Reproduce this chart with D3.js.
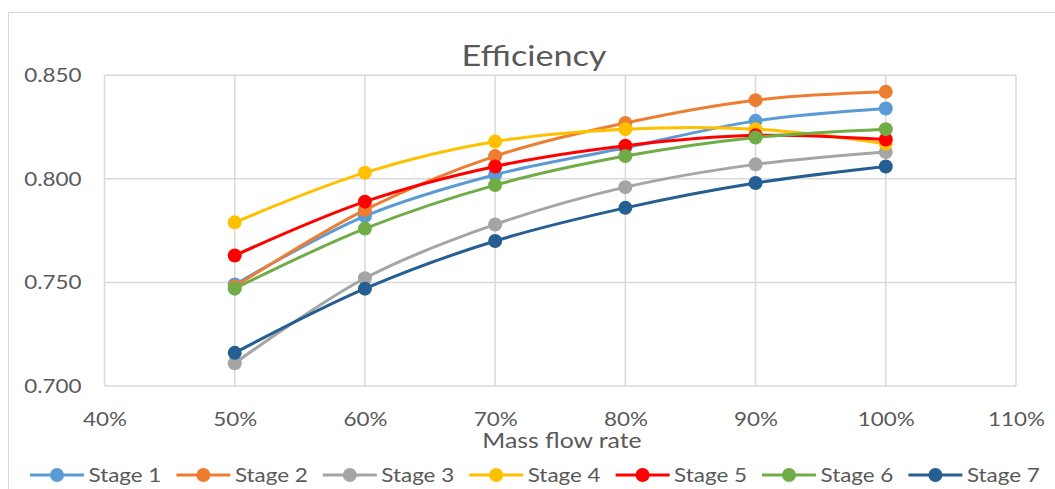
<!DOCTYPE html>
<html>
<head>
<meta charset="utf-8">
<script src="https://cdn.jsdelivr.net/npm/d3@7/dist/d3.min.js"></script>
<style>
  html, body { margin: 0; padding: 0; background: #fff; }
  svg { display: block; font-family: Lato, "Open Sans", sans-serif; }
</style>
</head>
<body>
<svg id="chart" width="1055" height="489"></svg>
<script>
// Mass flow rate (fraction of design) and per-stage efficiency
const flowRates = [0.5, 0.6, 0.7, 0.8, 0.9, 1.0];
const stageNames = ["Stage 1", "Stage 2", "Stage 3", "Stage 4", "Stage 5", "Stage 6", "Stage 7"];
const stage1 = [0.749, 0.782, 0.802, 0.815, 0.828, 0.834];
const stage2 = [0.748, 0.785, 0.811, 0.827, 0.838, 0.842];
const stage3 = [0.711, 0.752, 0.778, 0.796, 0.807, 0.813];
const stage4 = [0.779, 0.803, 0.818, 0.824, 0.824, 0.817];
const stage5 = [0.763, 0.789, 0.806, 0.816, 0.821, 0.819];
const stage6 = [0.747, 0.776, 0.797, 0.811, 0.820, 0.824];
const stage7 = [0.716, 0.747, 0.770, 0.786, 0.798, 0.806];
const stageColors = ["#5B9BD5", "#ED7D31", "#A5A5A5", "#FFC000", "#FF0000", "#70AD47", "#255E91"];
const xTicks = [0.4, 0.5, 0.6, 0.7, 0.8, 0.9, 1.0, 1.1];
const yTicks = [0.70, 0.75, 0.80, 0.85];

const series = [stage1, stage2, stage3, stage4, stage5, stage6, stage7].map((vals, i) => ({
  name: stageNames[i],
  color: stageColors[i],
  points: vals.map((v, j) => ({ x: flowRates[j], y: v }))
}));

const svg = d3.select("#chart");
const textColor = "#595959";
const gridColor = "#D9D9D9";
const stretch = 1.15; // horizontal widening of the label type

// Chart frame
svg.append("rect")
  .attr("x", 8.5).attr("y", 12.5)
  .attr("width", 1060).attr("height", 500)
  .attr("fill", "none").attr("stroke", gridColor).attr("stroke-width", 1);

const plot = { left: 104.5, right: 1016, top: 75.3, bottom: 386 };
const x = d3.scaleLinear().domain([0.4, 1.1]).range([plot.left, plot.right]);
const y = d3.scaleLinear().domain([0.70, 0.85]).range([plot.bottom, plot.top]);

// Gridlines
const grid = svg.append("g");
grid.selectAll(".vg").data(xTicks).join("line")
  .attr("x1", d => x(d)).attr("x2", d => x(d))
  .attr("y1", plot.top).attr("y2", plot.bottom)
  .attr("stroke", gridColor).attr("stroke-width", 1.5);
grid.selectAll(".hg").data(yTicks).join("line")
  .attr("x1", plot.left).attr("x2", plot.right)
  .attr("y1", d => y(d)).attr("y2", d => y(d))
  .attr("stroke", gridColor).attr("stroke-width", 1.5);

// Widen a text element horizontally around its anchor point
function widen(sel) {
  sel.each(function () {
    const t = d3.select(this);
    const ax = +t.attr("x") || 0;
    t.attr("x", 0).attr("transform", `translate(${ax},0) scale(${stretch},1)`);
  });
}

// Axes (labels only)
const yAxis = d3.axisLeft(y).tickValues(yTicks).tickFormat(d3.format(".3f")).tickSize(0).tickPadding(23);
const gy = svg.append("g").attr("transform", `translate(${plot.left},0)`).call(yAxis);
gy.select(".domain").remove();
gy.selectAll("text").attr("fill", textColor).style("font-size", "19.5px").style("font-family", "Lato").call(widen);

const xAxis = d3.axisBottom(x).tickValues(xTicks).tickFormat(d3.format(".0%")).tickSize(0).tickPadding(26);
const gx = svg.append("g").attr("transform", `translate(0,${plot.bottom})`).call(xAxis);
gx.select(".domain").remove();
gx.selectAll("text").attr("fill", textColor).style("font-size", "19.5px").style("font-family", "Lato").call(widen);

// Titles
svg.append("text")
  .attr("transform", `translate(534,65.5) scale(${stretch + 0.05},1)`)
  .attr("text-anchor", "middle")
  .attr("fill", textColor)
  .style("font-size", "28.5px")
  .text("Efficiency");

svg.append("text")
  .attr("transform", `translate(562,448.3) scale(${stretch + 0.03},1)`)
  .attr("text-anchor", "middle")
  .attr("fill", textColor)
  .style("font-size", "21px")
  .text("Mass flow rate");

// Smoothed series lines with markers
const line = d3.line()
  .x(d => x(d.x)).y(d => y(d.y))
  .curve(d3.curveCatmullRom.alpha(0.5));

const sg = svg.append("g").selectAll("g").data(series).join("g");
sg.append("path")
  .attr("d", d => line(d.points))
  .attr("fill", "none")
  .attr("stroke", d => d.color)
  .attr("stroke-width", 3)
  .attr("stroke-linecap", "round");
sg.selectAll("circle").data(d => d.points.map(p => ({ ...p, color: d.color }))).join("circle")
  .attr("cx", d => x(d.x)).attr("cy", d => y(d.y))
  .attr("r", 7)
  .attr("fill", d => d.color);

// Legend
const legend = svg.append("g").attr("transform", "translate(0,475)");
const item = legend.selectAll("g").data(series).join("g")
  .attr("transform", (d, i) => `translate(${30 + i * 146.4},0)`);
item.append("line")
  .attr("x1", 0).attr("x2", 54).attr("y1", 0).attr("y2", 0)
  .attr("stroke", d => d.color).attr("stroke-width", 3);
item.append("circle")
  .attr("cx", 27).attr("cy", 0).attr("r", 7)
  .attr("fill", d => d.color);
item.append("text")
  .attr("transform", `translate(58.5,6.5) scale(${stretch},1)`)
  .attr("fill", textColor)
  .style("font-size", "19.5px")
  .text(d => d.name);
</script>
</body>
</html>
